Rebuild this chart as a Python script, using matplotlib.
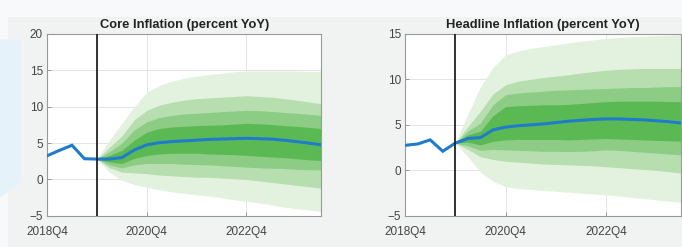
import numpy as np
import pandas as pd
import matplotlib
matplotlib.use("Agg")
import matplotlib.pyplot as plt
from matplotlib.patches import Polygon, Rectangle

quarters = [str(p) for p in pd.period_range("2018Q4", "2024Q2", freq="Q")]
tick_labels = ["2018Q4", "2020Q4", "2022Q4"]
last_actual = "2019Q4"

# core inflation: history 2018Q4-2019Q4, then median path 2020Q1-2024Q2
core_hist = [3.25, 4.0, 4.7, 2.85, 2.8]
core_med = [2.8, 3.0, 4.05, 4.75, 5.05, 5.2, 5.3, 5.4, 5.5, 5.55, 5.6,
            5.65, 5.6, 5.55, 5.4, 5.2, 5.0, 4.75]
# band edges from 2019Q4 onward (innermost first)
core_hi = [
    [2.8, 3.3, 4.0, 5.4, 6.5, 7.0, 7.2, 7.3, 7.4, 7.45, 7.5, 7.6, 7.7, 7.65, 7.55, 7.4, 7.3, 7.15, 7.0],
    [2.8, 3.8, 5.0, 6.8, 7.9, 8.5, 8.8, 9.0, 9.1, 9.2, 9.3, 9.4, 9.5, 9.45, 9.35, 9.2, 9.1, 8.95, 8.8],
    [2.8, 4.4, 6.0, 8.2, 9.5, 10.2, 10.6, 10.9, 11.1, 11.2, 11.3, 11.4, 11.5, 11.4, 11.3, 11.1, 10.9, 10.65, 10.4],
    [2.8, 5.4, 7.7, 10.0, 12.0, 12.9, 13.5, 13.9, 14.2, 14.4, 14.6, 14.8, 14.9, 14.9, 14.9, 14.9, 14.9, 14.85, 14.8],
]
core_lo = [
    [2.8, 2.4, 2.2, 2.9, 3.3, 3.5, 3.6, 3.6, 3.6, 3.5, 3.45, 3.4, 3.3, 3.2, 3.1, 3.0, 2.85, 2.7, 2.6],
    [2.8, 2.0, 1.6, 2.0, 2.2, 2.2, 2.2, 2.1, 2.05, 2.0, 1.9, 1.8, 1.7, 1.6, 1.55, 1.5, 1.4, 1.35, 1.3],
    [2.8, 1.6, 1.0, 0.9, 0.8, 0.6, 0.5, 0.4, 0.3, 0.3, 0.2, 0.1, 0.0, -0.2, -0.4, -0.6, -0.8, -1.0, -1.2],
    [2.8, 1.0, -0.1, -0.7, -1.1, -1.4, -1.7, -1.9, -2.1, -2.3, -2.5, -2.8, -3.0, -3.2, -3.5, -3.8, -4.0, -4.2, -4.4],
]

# headline inflation
head_hist = [2.75, 2.9, 3.35, 2.1, 3.0]
head_med = [3.5, 3.6, 4.45, 4.75, 4.9, 5.0, 5.1, 5.25, 5.4, 5.5, 5.6,
            5.65, 5.65, 5.6, 5.55, 5.45, 5.35, 5.2]
head_hi = [
    [3.0, 3.9, 4.3, 6.0, 7.0, 7.1, 7.15, 7.2, 7.2, 7.25, 7.35, 7.45, 7.55, 7.6, 7.6, 7.6, 7.6, 7.55, 7.55],
    [3.0, 4.3, 5.2, 7.2, 8.3, 8.5, 8.6, 8.7, 8.8, 8.85, 8.9, 8.95, 9.0, 9.05, 9.1, 9.1, 9.15, 9.2, 9.2],
    [3.0, 4.8, 6.5, 8.4, 9.4, 9.8, 10.0, 10.2, 10.35, 10.5, 10.7, 10.85, 11.0, 11.1, 11.15, 11.2, 11.2, 11.2, 11.2],
    [3.0, 6.2, 9.2, 11.3, 12.7, 13.1, 13.4, 13.6, 13.8, 14.0, 14.2, 14.35, 14.5, 14.6, 14.7, 14.75, 14.8, 14.85, 14.9],
]
head_lo = [
    [3.0, 3.1, 2.8, 3.2, 3.35, 3.4, 3.4, 3.4, 3.4, 3.35, 3.4, 3.45, 3.5, 3.45, 3.4, 3.35, 3.3, 3.25, 3.2],
    [3.0, 2.7, 2.2, 2.3, 2.25, 2.2, 2.15, 2.1, 2.1, 2.07, 2.1, 2.15, 2.25, 2.2, 2.1, 2.0, 1.9, 1.8, 1.7],
    [3.0, 2.3, 1.5, 1.2, 1.0, 0.9, 0.8, 0.7, 0.65, 0.6, 0.55, 0.5, 0.4, 0.3, 0.2, 0.1, 0.0, -0.15, -0.3],
    [3.0, 1.5, -0.2, -1.2, -1.8, -2.0, -2.1, -2.2, -2.3, -2.4, -2.5, -2.6, -2.7, -2.8, -2.95, -3.1, -3.25, -3.4, -3.5],
]

band_colors = ["#5bb953", "#8ccc84", "#b6deaf", "#e3f2df"]
line_color = "#1f7ccc"

plt.rcParams["font.family"] = ["Liberation Sans", "DejaVu Sans"]

fig = plt.figure(figsize=(6.82, 2.47), dpi=100)
fig.patch.set_facecolor("#f7f9fa")
# background decoration of the screenshot
fig.patches.append(Rectangle((0.012, 0.0), 0.988, 0.93, transform=fig.transFigure,
                             facecolor="#f1f2f2", edgecolor="none", zorder=-2))
fig.patches.append(Polygon([(0, 0.84), (0.03, 0.84), (0.03, 0.26), (0, 0.2)],
                           closed=True, transform=fig.transFigure,
                           facecolor="#e6f2fa", edgecolor="none", zorder=-1))


def draw_panel(ax, title, hist, med, hi, lo, ylim, yticks):
    x = np.arange(len(quarters))
    x0 = quarters.index(last_actual)
    xf = x[x0:]
    for k in range(len(hi) - 1, -1, -1):
        ax.fill_between(xf, lo[k], hi[k], color=band_colors[k], linewidth=0, zorder=2)
    path = hist + med
    ax.plot(x[:len(path)], path, color=line_color, lw=2.2, zorder=4, solid_joinstyle="miter")
    ax.axvline(x0, color="#222222", lw=1.3, zorder=5)
    ax.set_xlim(0, len(quarters) - 1)
    ax.set_ylim(*ylim)
    ax.set_yticks(yticks)
    ax.set_xticks([quarters.index(t) for t in tick_labels])
    ax.set_xticklabels(tick_labels)
    ax.grid(True, color="#e4e4e4", lw=0.7, zorder=0)
    ax.set_axisbelow(True)
    ax.tick_params(direction="in", length=3, width=0.6, colors="#888888",
                   labelcolor="#444444", labelsize=8.5)
    ax.tick_params(axis="x", pad=7)
    ax.tick_params(axis="y", pad=3)
    for s in ax.spines.values():
        s.set_color("#999999")
        s.set_linewidth(0.8)
    ax.set_facecolor("white")
    ax.set_title(title, fontsize=9.3, fontweight="bold", color="#222222", pad=4)


ax1 = fig.add_axes([0.069, 0.126, 0.402, 0.737])
draw_panel(ax1, "Core Inflation (percent YoY)", core_hist, core_med, core_hi, core_lo,
           (-5, 20), [-5, 0, 5, 10, 15, 20])

ax2 = fig.add_axes([0.594, 0.126, 0.405, 0.737])
draw_panel(ax2, "Headline Inflation (percent YoY)", head_hist, head_med, head_hi, head_lo,
           (-5, 15), [-5, 0, 5, 10, 15])

fig.savefig("out.png", dpi=100, facecolor=fig.get_facecolor())
